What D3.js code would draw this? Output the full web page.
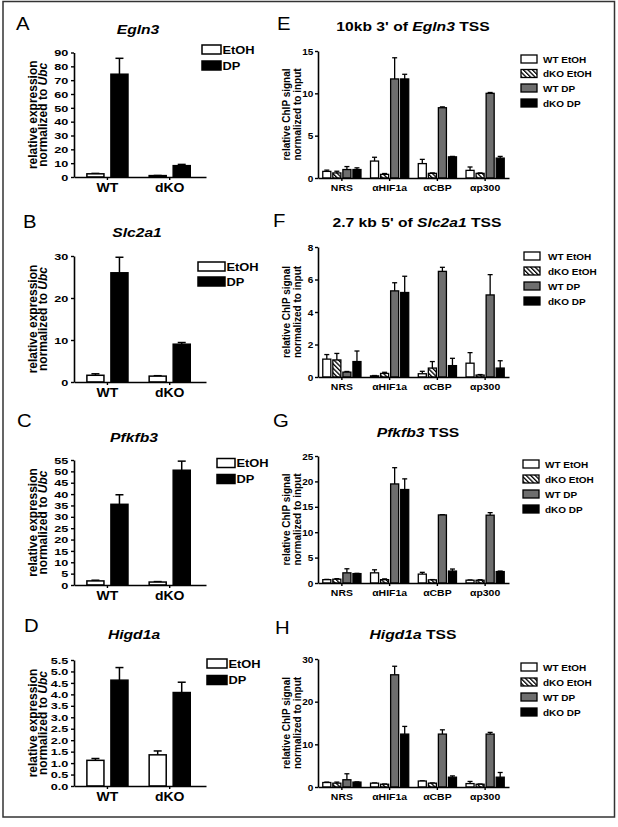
<!DOCTYPE html>
<html><head><meta charset="utf-8">
<script src="https://cdn.jsdelivr.net/npm/d3@7/dist/d3.min.js"></script>
<style>
body{margin:0;background:#fff}
text{font-family:"Liberation Sans",Arial,Helvetica,sans-serif}
</style>
</head><body>
<svg id="fig" width="618" height="827"></svg>
<script>
// ---------------- DATA ----------------
const exprGroups = ["WT", "dKO"];
const exprSeries = ["EtOH", "DP"];
const chipGroups = ["NRS", "αHIF1a", "αCBP", "αp300"];
const chipSeries = ["WT EtOH", "dKO EtOH", "WT DP", "dKO DP"];

// expression panels: rows = groups (WT, dKO), cols = series (EtOH, DP)
const egln3Mean  = [[2.3, 74.3], [1.0, 8.2]];
const egln3Err   = [[0.3, 11.5], [0.1, 0.9]];
const egln3Ticks = [0, 10, 20, 30, 40, 50, 60, 70, 80, 90];

const slc2a1Mean  = [[1.6, 26.0], [1.4, 9.0]];
const slc2a1Err   = [[0.35, 3.7], [0.1, 0.4]];
const slc2a1Ticks = [0, 10, 20, 30];

const pfkfb3Mean  = [[1.8, 35.5], [1.3, 50.5]];
const pfkfb3Err   = [[0.3, 4.2], [0.2, 4.0]];
const pfkfb3Ticks = [0, 5, 10, 15, 20, 25, 30, 35, 40, 45, 50, 55];

const higd1aMean  = [[1.12, 4.62], [1.36, 4.08]];
const higd1aErr   = [[0.08, 0.55], [0.17, 0.45]];
const higd1aTicks = [0, 0.5, 1, 1.5, 2, 2.5, 3, 3.5, 4, 4.5, 5, 5.5];

// ChIP panels: rows = antibodies, cols = WT EtOH, dKO EtOH, WT DP, dKO DP
const egln3Chip    = [[0.78, 0.6, 1.0, 1.0], [2.0, 0.43, 11.7, 11.7], [1.7, 0.55, 8.3, 2.5], [0.9, 0.55, 10.0, 2.35]];
const egln3ChipErr = [[0.15, 0.2, 0.35, 0.2], [0.45, 0.1, 2.5, 0.55], [0.5, 0.05, 0.1, 0.05], [0.4, 0.05, 0.1, 0.2]];
const egln3ChipTicks = [0, 5, 10, 15];

const slc2a1Chip    = [[1.1, 1.05, 0.3, 0.95], [0.07, 0.22, 5.3, 5.2], [0.2, 0.55, 6.5, 0.7], [0.85, 0.12, 5.05, 0.55]];
const slc2a1ChipErr = [[0.28, 0.4, 0.04, 0.65], [0.02, 0.07, 0.5, 1.0], [0.15, 0.4, 0.25, 0.45], [0.65, 0.03, 1.25, 0.45]];
const slc2a1ChipTicks = [0, 2, 4, 6, 8];

const pfkfb3Chip    = [[0.66, 0.75, 2.0, 1.85], [2.0, 0.66, 19.5, 18.4], [1.75, 0.62, 13.4, 2.35], [0.55, 0.55, 13.35, 2.25]];
const pfkfb3ChipErr = [[0.05, 0.1, 0.8, 0.05], [0.6, 0.15, 3.2, 2.1], [0.35, 0.05, 0.05, 0.4], [0.05, 0.1, 0.5, 0.1]];
const pfkfb3ChipTicks = [0, 5, 10, 15, 20, 25];

const higd1aChip    = [[1.05, 0.9, 1.7, 1.15], [0.9, 0.65, 26.3, 12.4], [1.4, 0.9, 12.4, 2.3], [0.8, 0.65, 12.4, 2.3]];
const higd1aChipErr = [[0.1, 0.25, 1.4, 0.05], [0.05, 0.05, 2.0, 1.8], [0.05, 0.05, 1.0, 0.3], [0.5, 0.05, 0.4, 1.1]];
const higd1aChipTicks = [0, 10, 20, 30];

// ---------------- STYLE ----------------
const SX = 1.16;           // horizontal stretch of the original figure text
const GRAY = "#6e6e6e";
const svg = d3.select("#fig");
const defs = svg.append("defs");
const hatch = defs.append("pattern").attr("id", "hatch").attr("patternUnits", "userSpaceOnUse")
  .attr("width", 3.2).attr("height", 3.2).attr("patternTransform", "rotate(-45)");
hatch.append("rect").attr("width", 3.2).attr("height", 3.2).attr("fill", "#fff");
hatch.append("rect").attr("x", 0).attr("width", 1.3).attr("height", 3.2).attr("fill", "#000");

const exprFill = {"EtOH": "#fff", "DP": "#000"};
const chipFill = {"WT EtOH": "#fff", "dKO EtOH": "url(#hatch)", "WT DP": GRAY, "dKO DP": "#000"};

svg.append("rect").attr("x", 3).attr("y", 1.5).attr("width", 611.5).attr("height", 815.5)
  .attr("fill", "none").attr("stroke", "#333").attr("stroke-width", 1.5);

function txt(g, x, y, parts, o) {
  const t = g.append("text")
    .attr("transform", `translate(${x},${y}) scale(${o.sx == null ? SX : o.sx},1)`)
    .attr("text-anchor", o.anchor || "start")
    .style("font-size", o.size + "px")
    .style("font-weight", o.weight || "bold")
    .attr("fill", "#000");
  (Array.isArray(parts) ? parts : [[parts, false]]).forEach(p => {
    t.append("tspan").text(p[0]).style("font-style", p[1] ? "italic" : "normal");
  });
  return t;
}
function vtxt(g, x, y, parts, size) {
  const t = g.append("text").attr("transform", `translate(${x},${y}) rotate(-90)`)
    .attr("text-anchor", "middle").style("font-size", size + "px").style("font-weight", "bold");
  parts.forEach(p => t.append("tspan").text(p[0]).style("font-style", p[1] ? "italic" : "normal"));
}

function styleAxis(sel, fs, sx) {
  sel.selectAll("path.domain").attr("stroke", "#000").attr("stroke-width", 1.6);
  sel.selectAll(".tick line").attr("stroke", "#000").attr("stroke-width", 1.4);
  sel.selectAll(".tick text").attr("fill", "#000").style("font-size", fs + "px")
    .style("font-weight", "bold").style("font-family", '"Liberation Sans",Arial,sans-serif')
    .attr("transform", `scale(${sx},1)`);
}

// ---------------- EXPRESSION PANELS ----------------
function exprPanel(L, mean, err, ticks, fmt) {
  const g = svg.append("g");
  const y = d3.scaleLinear().domain([0, ticks[ticks.length - 1]]).range([L.y0, L.y1]);
  const x0 = d3.scaleBand().domain(exprGroups).range([74, 206]).paddingInner(0.34).paddingOuter(0.23).align(0.45);
  const x1 = d3.scaleBand().domain(exprSeries).range([0, x0.bandwidth()]).paddingInner(0.29);

  exprGroups.forEach((grp, gi) => {
    exprSeries.forEach((s, si) => {
      const v = mean[gi][si], e = err[gi][si];
      const bx = x0(grp) + x1(s), bw = x1.bandwidth(), cx = bx + bw / 2;
      g.append("line").attr("x1", cx).attr("x2", cx).attr("y1", y(v)).attr("y2", y(v + e))
        .attr("stroke", "#000").attr("stroke-width", 1.5);
      g.append("line").attr("x1", cx - 4).attr("x2", cx + 4).attr("y1", y(v + e)).attr("y2", y(v + e))
        .attr("stroke", "#000").attr("stroke-width", 1.5);
      g.append("rect").attr("x", bx).attr("y", y(v)).attr("width", bw).attr("height", y(0) - y(v))
        .attr("fill", exprFill[s]).attr("stroke", "#000").attr("stroke-width", 1.5);
    });
  });

  const ya = g.append("g").attr("transform", `translate(74,0)`)
    .call(d3.axisLeft(y).tickValues(ticks).tickSize(3).tickSizeOuter(0).tickPadding(1.5).tickFormat(fmt));
  styleAxis(ya, 9.9, 1.28);
  const xa = g.append("g").attr("transform", `translate(0,${L.y0})`)
    .call(d3.axisBottom(x0).tickSize(3).tickSizeOuter(0).tickPadding(3));
  styleAxis(xa, 12.5, 1.12);

  vtxt(g, 36.5, (L.y0 + L.y1) / 2, [["relative expression", false]], 12);
  vtxt(g, 47, (L.y0 + L.y1) / 2, [["normalized to ", false], ["Ubc", true]], 12);

  txt(g, L.tx, L.ty, [[L.title, true]], {size: 13.5, anchor: "middle"});
  txt(g, L.lx, L.ly, L.letter, {size: 17.5, weight: "normal"});

  exprSeries.forEach((s, i) => {
    const cy = L.legY[i];
    g.append("rect").attr("x", L.legX).attr("y", cy - 4.5).attr("width", L.legW).attr("height", 9)
      .attr("fill", exprFill[s]).attr("stroke", "#000").attr("stroke-width", 1.5);
    txt(g, L.legX + L.legW + 1.5, cy + 4.2, s, {size: 11.5, sx: 1.12});
  });
}

// ---------------- CHIP PANELS ----------------
function chipPanel(L, mean, err, ticks) {
  const g = svg.append("g");
  const y = d3.scaleLinear().domain([0, ticks[ticks.length - 1]]).range([L.y0, L.y1]);
  const x0 = d3.scaleBand().domain(chipGroups).range([318, 509]).paddingInner(0.2).paddingOuter(0.1);
  const x1 = d3.scaleBand().domain(chipSeries).range([0, x0.bandwidth()]).paddingInner(0.2);

  chipGroups.forEach((grp, gi) => {
    chipSeries.forEach((s, si) => {
      const v = mean[gi][si], e = err[gi][si];
      const bx = x0(grp) + x1(s), bw = x1.bandwidth(), cx = bx + bw / 2;
      g.append("line").attr("x1", cx).attr("x2", cx).attr("y1", y(v)).attr("y2", y(v + e))
        .attr("stroke", "#000").attr("stroke-width", 1.3);
      g.append("line").attr("x1", cx - 2.5).attr("x2", cx + 2.5).attr("y1", y(v + e)).attr("y2", y(v + e))
        .attr("stroke", "#000").attr("stroke-width", 1.3);
      g.append("rect").attr("x", bx).attr("y", y(v)).attr("width", bw).attr("height", y(0) - y(v))
        .attr("fill", chipFill[s]).attr("stroke", "#000").attr("stroke-width", 1.3);
    });
  });

  const ya = g.append("g").attr("transform", `translate(318,0)`)
    .call(d3.axisLeft(y).tickValues(ticks).tickSize(3).tickSizeOuter(0).tickPadding(1.5));
  styleAxis(ya, 9.5, 1.05);
  const xa = g.append("g").attr("transform", `translate(0,${L.y0})`)
    .call(d3.axisBottom(x0).tickSize(3).tickSizeOuter(0).tickPadding(3));
  styleAxis(xa, 9.5, 1.1);

  vtxt(g, 290, (L.y0 + L.y1) / 2, [["relative ChIP signal", false]], 10);
  vtxt(g, 300.5, (L.y0 + L.y1) / 2, [["normalized to input", false]], 10);

  txt(g, L.tx, L.ty, L.title, {size: 13.5, anchor: "middle"});
  txt(g, L.lx, L.ly, L.letter, {size: 17.5, weight: "normal"});

  chipSeries.forEach((s, i) => {
    const cy = L.legY[i];
    g.append("rect").attr("x", L.legX).attr("y", cy - 4).attr("width", 16).attr("height", 8)
      .attr("fill", chipFill[s]).attr("stroke", "#000").attr("stroke-width", 1.3);
    txt(g, L.textX, cy + 3.5, s, {size: 9.6, sx: 1.04});
  });
}

exprPanel({y0: 177, y1: 52.5, title: "Egln3", tx: 138, ty: 34, letter: "A", lx: 16, ly: 30,
  legX: 202, legW: 19, legY: [49.5, 65.5]}, egln3Mean, egln3Err, egln3Ticks, d3.format("d"));
exprPanel({y0: 382, y1: 256, title: "Slc2a1", tx: 137, ty: 237, letter: "B", lx: 23, ly: 228,
  legX: 198, legW: 27, legY: [266.5, 281.5]}, slc2a1Mean, slc2a1Err, slc2a1Ticks, d3.format("d"));
exprPanel({y0: 585, y1: 460, title: "Pfkfb3", tx: 134, ty: 442, letter: "C", lx: 17, ly: 427,
  legX: 217, legW: 18, legY: [463, 479]}, pfkfb3Mean, pfkfb3Err, pfkfb3Ticks, d3.format("d"));
exprPanel({y0: 786, y1: 660, title: "Higd1a", tx: 134, ty: 639, letter: "D", lx: 24, ly: 632,
  legX: 207, legW: 20, legY: [663.5, 680]}, higd1aMean, higd1aErr, higd1aTicks, d3.format(".1f"));

chipPanel({y0: 178, y1: 51, title: [["10kb 3' of ", false], ["Egln3", true], [" TSS", false]], tx: 413, ty: 31,
  letter: "E", lx: 277, ly: 30, legX: 521, textX: 543, legY: [59, 73.5, 88, 103]},
  egln3Chip, egln3ChipErr, egln3ChipTicks);
chipPanel({y0: 377, y1: 247, title: [["2.7 kb 5' of ", false], ["Slc2a1", true], [" TSS", false]], tx: 417, ty: 227,
  letter: "F", lx: 273, ly: 227, legX: 524, textX: 548, legY: [256, 271, 286, 301]},
  slc2a1Chip, slc2a1ChipErr, slc2a1ChipTicks);
chipPanel({y0: 583, y1: 456, title: [["Pfkfb3", true], [" TSS", false]], tx: 418, ty: 437,
  letter: "G", lx: 273, ly: 427, legX: 523, textX: 545, legY: [464, 479, 494, 509]},
  pfkfb3Chip, pfkfb3ChipErr, pfkfb3ChipTicks);
chipPanel({y0: 787, y1: 659, title: [["Higd1a", true], [" TSS", false]], tx: 413, ty: 639,
  letter: "H", lx: 275, ly: 634, legX: 521, textX: 543, legY: [667, 682, 697, 712]},
  higd1aChip, higd1aChipErr, higd1aChipTicks);
</script>
</body></html>
